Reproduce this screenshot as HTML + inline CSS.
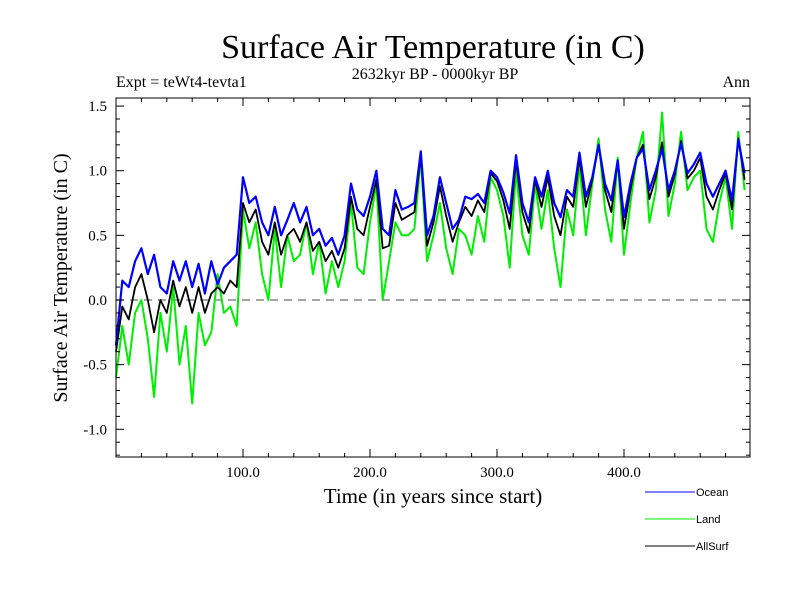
<!DOCTYPE html>
<html><head><meta charset="utf-8"><style>
body{margin:0;background:#fff}
svg{display:block}
text{font-family:"Liberation Serif",serif;fill:#000}
.lg{font-family:"Liberation Sans",sans-serif;font-size:11px}
</style></head><body>
<svg id="chart" width="800" height="600">
<text x="433" y="58" font-size="34" text-anchor="middle">Surface Air Temperature (in C)</text>
<text x="435" y="79" font-size="16" text-anchor="middle">2632kyr BP - 0000kyr BP</text>
<text x="116" y="87" font-size="16">Expt = teWt4-tevta1</text>
<text x="750" y="87" font-size="16" text-anchor="end">Ann</text>
<text x="0" y="0" font-size="20" text-anchor="middle" transform="translate(67,278) rotate(-90)">Surface Air Temperature (in C)</text>
<text x="433" y="503" font-size="21" text-anchor="middle">Time (in years since start)</text>
<g id="plot"></g>
<g>
<line x1="645" y1="492" x2="695" y2="492" stroke="#0000ff"/>
<text class="lg" x="696" y="496">Ocean</text>
<line x1="645" y1="519" x2="695" y2="519" stroke="#00ee00"/>
<text class="lg" x="696" y="523">Land</text>
<line x1="645" y1="546" x2="695" y2="546" stroke="#000"/>
<text class="lg" x="696" y="550">AllSurf</text>
</g>
</svg>
<script>
const years=[];for(let i=0;i<100;i++)years.push(i*5);
const ocean=[-0.35,0.15,0.1,0.3,0.4,0.2,0.35,0.1,0.05,0.3,0.15,0.3,0.1,0.28,0.05,0.3,0.12,0.25,0.3,0.35,
0.95,0.75,0.8,0.6,0.5,0.72,0.5,0.62,0.75,0.6,0.72,0.5,0.55,0.42,0.48,0.35,0.5,0.9,0.7,0.65,
0.8,1.0,0.55,0.5,0.85,0.7,0.72,0.75,1.15,0.5,0.65,0.95,0.75,0.55,0.62,0.8,0.78,0.82,0.75,1.0,
0.95,0.83,0.67,1.12,0.75,0.6,0.95,0.8,1.0,0.75,0.64,0.85,0.8,1.14,0.8,0.95,1.2,0.9,0.77,1.08,
0.64,0.9,1.1,1.17,0.85,1.0,1.17,0.85,1.0,1.21,0.98,1.05,1.14,0.9,0.8,0.9,1.0,0.77,1.24,0.98];
const land=[-0.6,-0.2,-0.5,-0.1,0.0,-0.3,-0.75,-0.1,-0.4,0.1,-0.5,-0.2,-0.8,-0.1,-0.35,-0.25,0.2,-0.1,-0.05,-0.2,
0.7,0.4,0.6,0.2,0.0,0.55,0.1,0.5,0.3,0.35,0.6,0.2,0.45,0.05,0.3,0.1,0.3,0.75,0.25,0.2,
0.6,0.9,0.0,0.3,0.6,0.5,0.5,0.55,1.1,0.3,0.5,0.75,0.4,0.2,0.55,0.5,0.35,0.65,0.45,0.95,
0.85,0.65,0.25,1.0,0.5,0.35,0.9,0.55,0.85,0.4,0.1,0.7,0.5,1.05,0.5,0.9,1.25,0.7,0.45,1.1,
0.35,0.75,1.1,1.3,0.6,0.85,1.45,0.65,0.9,1.3,0.85,0.95,1.0,0.55,0.45,0.75,0.95,0.55,1.3,0.85];
const allsurf=[-0.4,-0.05,-0.15,0.1,0.2,0.0,-0.25,0.0,-0.1,0.15,-0.05,0.1,-0.1,0.1,-0.1,0.05,0.1,0.05,0.15,0.1,
0.75,0.6,0.7,0.45,0.35,0.6,0.35,0.5,0.55,0.45,0.6,0.38,0.45,0.3,0.38,0.25,0.4,0.8,0.55,0.5,
0.72,0.93,0.4,0.42,0.75,0.62,0.65,0.68,1.12,0.42,0.6,0.88,0.65,0.45,0.6,0.72,0.65,0.77,0.68,0.98,
0.92,0.77,0.55,1.08,0.68,0.52,0.93,0.72,0.95,0.65,0.5,0.8,0.72,1.1,0.72,0.93,1.2,0.85,0.68,1.08,
0.55,0.85,1.1,1.2,0.78,0.95,1.22,0.8,0.97,1.23,0.94,1.0,1.1,0.8,0.7,0.85,0.98,0.7,1.25,0.93];
const yTicks=[-1.0,-0.5,0.0,0.5,1.0,1.5];
const xTicks=[100,200,300,400];

const L=116,R=750,T=98,B=457;
const xs=v=>L+v*1.27;
const ys=v=>300-v*129.3;
const NS="http://www.w3.org/2000/svg";
const g=document.getElementById('plot');
function mk(tag,attrs){const e=document.createElementNS(NS,tag);for(const k in attrs)e.setAttribute(k,attrs[k]);g.appendChild(e);return e;}

const z=mk('line',{x1:L,x2:R,y1:ys(0),y2:ys(0),stroke:'#888','stroke-width':1.5,'stroke-dasharray':'8,6'});



function series(arr,color,name,w){
  const d=arr.map((v,i)=>(i?'L':'M')+xs(years[i]).toFixed(1)+','+ys(v).toFixed(1)).join('');
  const p=mk('path',{d:d,fill:'none',stroke:color,'stroke-width':w,'stroke-linejoin':'round'});
  
  
}
series(land,'#00ee00','land-series',2);
series(allsurf,'#000','allsurf-series',1.8);
series(ocean,'#0000ff','ocean-series',2.2);

const f=mk('rect',{x:L,y:T,width:R-L,height:B-T,fill:'none',stroke:'#000','stroke-width':1});



for(let v=20;v<500;v+=20){
  const major=v%100===0, len=major?8:4;
  mk('line',{x1:xs(v),x2:xs(v),y1:B,y2:B-len,stroke:'#000'});
  mk('line',{x1:xs(v),x2:xs(v),y1:T,y2:T+len,stroke:'#000'});
}
xTicks.forEach(v=>{
  const t=mk('text',{x:xs(v),y:B+20,'font-size':15,'text-anchor':'middle'});
  t.textContent=v.toFixed(1);
  
  
});
for(let k=-12;k<=15;k++){
  const v=k/10, major=k%5===0, len=major?8:4;
  mk('line',{x1:L,x2:L+len,y1:ys(v),y2:ys(v),stroke:'#000'});
  mk('line',{x1:R,x2:R-len,y1:ys(v),y2:ys(v),stroke:'#000'});
}
yTicks.forEach(v=>{
  const t=mk('text',{x:107,y:ys(v)+5,'font-size':15,'text-anchor':'end'});
  t.textContent=v.toFixed(1);
  
  
});
</script>
</body></html>
